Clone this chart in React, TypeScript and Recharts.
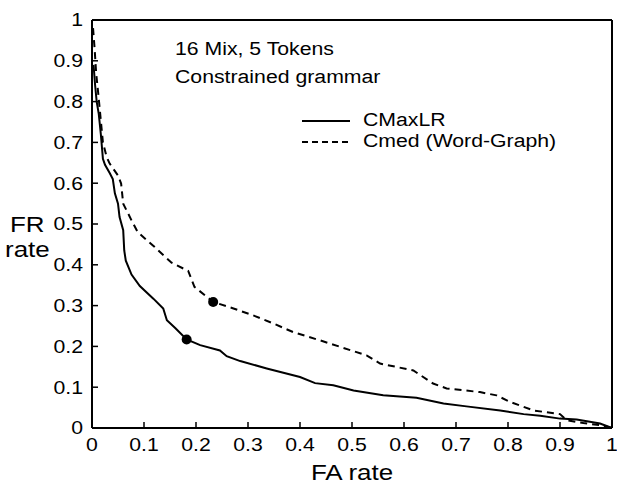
import {
  ComposedChart,
  Line,
  XAxis,
  YAxis,
  ReferenceDot,
  Legend,
} from "recharts";

const axisTicks = [0, 0.1, 0.2, 0.3, 0.4, 0.5, 0.6, 0.7, 0.8, 0.9, 1];

const cmaxlrFA = [
  0.003, 0.006, 0.009, 0.013, 0.017, 0.021, 0.025, 0.034, 0.04, 0.044, 0.05,
  0.053, 0.06, 0.062, 0.065, 0.076, 0.092, 0.118, 0.137, 0.144, 0.16, 0.182,
  0.208, 0.246, 0.259, 0.285, 0.336, 0.4, 0.429, 0.464, 0.503, 0.56, 0.624,
  0.676, 0.72, 0.785, 0.83, 0.862, 0.9, 0.932, 0.977, 1,
];
const cmaxlrFR = [
  0.89, 0.84, 0.8, 0.77, 0.72, 0.66, 0.645, 0.625, 0.61, 0.575, 0.55, 0.517,
  0.485, 0.435, 0.41, 0.376, 0.348, 0.317, 0.293, 0.264, 0.245, 0.217, 0.203,
  0.19, 0.176, 0.164, 0.146, 0.125, 0.11, 0.105, 0.092, 0.08, 0.074, 0.06,
  0.053, 0.043, 0.034, 0.03, 0.023, 0.021, 0.011, 0,
];

const cmedFA = [
  0.002, 0.005, 0.008, 0.012, 0.015, 0.021, 0.028, 0.034, 0.05, 0.056, 0.06,
  0.076, 0.088, 0.12, 0.153, 0.185, 0.197, 0.233, 0.272, 0.31, 0.349, 0.387,
  0.438, 0.477, 0.528, 0.554, 0.618, 0.656, 0.682, 0.746, 0.778, 0.804, 0.849,
  0.9, 0.913, 0.945, 0.977, 1,
];
const cmedFR = [
  0.98, 0.93, 0.87, 0.82, 0.78, 0.7, 0.665, 0.648, 0.619, 0.599, 0.55, 0.509,
  0.48, 0.444, 0.405, 0.385, 0.346, 0.309, 0.293, 0.276, 0.256, 0.235, 0.215,
  0.199, 0.178, 0.158, 0.141, 0.109, 0.097, 0.088, 0.08, 0.064, 0.043, 0.034,
  0.019, 0.012, 0.007, 0,
];

// operating points marked on each curve
const cmaxlrPoint = [0.182, 0.217];
const cmedPoint = [0.233, 0.309];

const cmaxlr = cmaxlrFA.map((x, i) => ({ x, y: cmaxlrFR[i] }));
const cmed = cmedFA.map((x, i) => ({ x, y: cmedFR[i] }));

const FONT = "'Liberation Sans', Arial, sans-serif";
// the source figure is stretched sideways, so text is widened to match
const SX = 1.18;
const blank = () => "";

function AxisTick(props: any) {
  const { x, y, payload, textAnchor, orientation } = props;
  const dy = orientation === "bottom" ? "0.71em" : "0.355em";
  return (
    <text
      transform={`translate(${x},${y}) scale(${SX},1)`}
      textAnchor={textAnchor}
      dy={dy}
      fill="#000"
      fontSize={18}
      fontFamily={FONT}
    >
      {String(payload.value)}
    </text>
  );
}

function LegendBox() {
  const rows: [string, string | undefined][] = [
    ["CMaxLR", undefined],
    ["Cmed (Word-Graph)", "6 4"],
  ];
  return (
    <div style={{ fontFamily: FONT, fontSize: 18, color: "#000" }}>
      {rows.map(([name, dash]) => (
        <div key={name} style={{ display: "flex", alignItems: "center", height: 21 }}>
          <svg width={48} height={4} style={{ marginRight: 13 }}>
            <line x1={0} y1={2} x2={48} y2={2} stroke="#000" strokeWidth={2} strokeDasharray={dash} />
          </svg>
          <span style={{ display: "inline-block", transform: `scaleX(${SX})`, transformOrigin: "left center", whiteSpace: "nowrap" }}>
            {name}
          </span>
        </div>
      ))}
    </div>
  );
}

export default function App() {
  return (
    <div style={{ position: "absolute", left: 0, top: 0, width: 617, height: 487, background: "#fff" }}>
      <ComposedChart width={617} height={487} margin={{ top: 0, right: 0, bottom: 0, left: 0 }}>
        <XAxis
          xAxisId="bottom"
          type="number"
          dataKey="x"
          domain={[0, 1]}
          ticks={axisTicks}
          height={59}
          tickSize={-6}
          tickMargin={16}
          axisLine={{ stroke: "#000", strokeWidth: 2 }}
          tickLine={{ stroke: "#000", strokeWidth: 1.5 }}
          tick={<AxisTick />}
          allowDuplicatedCategory={false}
          label={{
            content: () => (
              <text
                transform={`translate(352,480) scale(${SX},1)`}
                textAnchor="middle"
                fill="#000"
                fontSize={22}
                fontFamily={FONT}
              >
                FA rate
              </text>
            ),
          }}
        />
        <XAxis
          xAxisId="top"
          orientation="top"
          type="number"
          domain={[0, 1]}
          ticks={axisTicks}
          tickFormatter={blank}
          height={20}
          tickSize={-6}
          axisLine={{ stroke: "#000", strokeWidth: 2 }}
          tickLine={{ stroke: "#000", strokeWidth: 1.5 }}
        />
        <YAxis
          yAxisId="left"
          type="number"
          domain={[0, 1]}
          ticks={axisTicks}
          width={92}
          tickSize={-6}
          tickMargin={15}
          axisLine={{ stroke: "#000", strokeWidth: 2 }}
          tickLine={{ stroke: "#000", strokeWidth: 1.5 }}
          tick={<AxisTick />}
          label={{
            content: () => (
              <g fill="#000" fontSize={22} fontFamily={FONT}>
                <text transform={`translate(10,232) scale(${SX},1)`}>FR</text>
                <text transform={`translate(5,257) scale(${SX},1)`}>rate</text>
              </g>
            ),
          }}
        />
        <YAxis
          yAxisId="right"
          orientation="right"
          type="number"
          domain={[0, 1]}
          ticks={axisTicks}
          tickFormatter={blank}
          width={5}
          tickSize={-6}
          axisLine={{ stroke: "#000", strokeWidth: 2 }}
          tickLine={{ stroke: "#000", strokeWidth: 1.5 }}
        />
        <Legend
          verticalAlign="middle"
          align="center"
          content={() => <LegendBox />}
          wrapperStyle={{ left: 302, top: 110, width: 280 }}
        />
        <Line
          xAxisId="bottom"
          yAxisId="left"
          data={cmaxlr}
          dataKey="y"
          name="CMaxLR"
          type="linear"
          stroke="#000"
          strokeWidth={2}
          dot={false}
          isAnimationActive={false}
        />
        <Line
          xAxisId="bottom"
          yAxisId="left"
          data={cmed}
          dataKey="y"
          name="Cmed (Word-Graph)"
          type="linear"
          stroke="#000"
          strokeWidth={2}
          strokeDasharray="7 5"
          dot={false}
          isAnimationActive={false}
        />
        <ReferenceDot xAxisId="bottom" yAxisId="left" x={cmaxlrPoint[0]} y={cmaxlrPoint[1]} r={5} fill="#000" stroke="none" />
        <ReferenceDot xAxisId="bottom" yAxisId="left" x={cmedPoint[0]} y={cmedPoint[1]} r={5} fill="#000" stroke="none" />
      </ComposedChart>
      <div
        style={{
          position: "absolute",
          left: 175,
          top: 35,
          fontFamily: FONT,
          fontSize: 18,
          lineHeight: "28px",
          color: "#000",
          whiteSpace: "nowrap",
          transform: `scaleX(${SX})`,
          transformOrigin: "left top",
        }}
      >
        <div>16 Mix, 5 Tokens</div>
        <div>Constrained grammar</div>
      </div>
    </div>
  );
}
